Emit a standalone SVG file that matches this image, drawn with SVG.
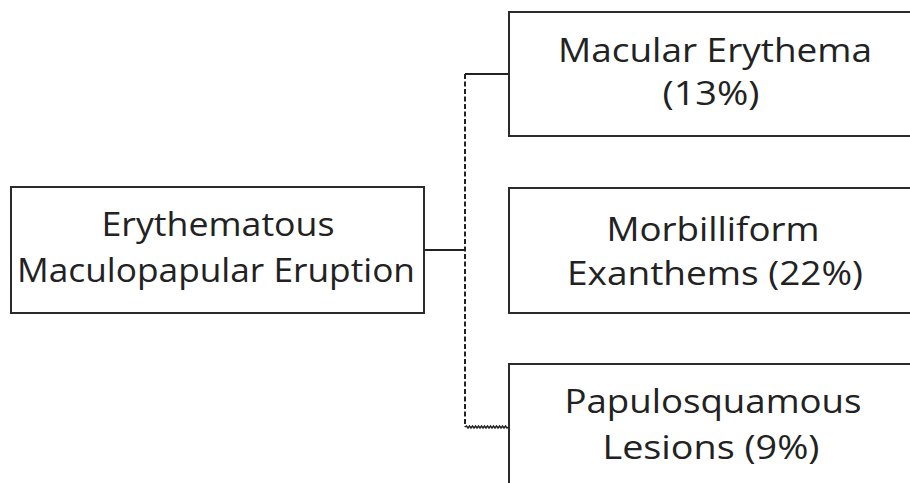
<svg xmlns="http://www.w3.org/2000/svg" width="910" height="483" viewBox="0 0 910 483">
<style>
.box{fill:#fff;stroke:#2b2b2b;stroke-width:2}
.t{font-family:"Open Sans","Liberation Sans",sans-serif;font-size:33px;fill:#222;text-anchor:middle}
.c{fill:none;stroke:#222;stroke-width:2}
</style>
<rect width="910" height="483" fill="#fff"/>
<g id="connectors">
<path class="c" d="M424,250H465"/>
<path class="c" d="M465,74V427" stroke-dasharray="5,2.5"/>
<path class="c" d="M465,74H509"/>
<path fill="none" stroke="#222" stroke-width="1.4" d="M465,427 l1.5,-1 1.5,2 1.5,-2 1.5,2 1.5,-2 1.5,2 1.5,-2 1.5,2 1.5,-2 1.5,2 1.5,-2 1.5,2 1.5,-2 1.5,2 1.5,-2 1.5,2 1.5,-2 1.5,2 1.5,-2 1.5,2 1.5,-2 1.5,2 1.5,-2 1.5,2 1.5,-2 1.5,2 1.5,-2 1.5,2 1.5,-1"/>
</g>
<g id="erythematous">
<rect class="box" x="11" y="187" width="413" height="126"/>
<text class="t" x="218" y="236" textLength="233" lengthAdjust="spacingAndGlyphs">Erythematous</text>
<text class="t" x="216" y="282" textLength="398" lengthAdjust="spacingAndGlyphs">Maculopapular Eruption</text>
</g>
<g id="macular">
<rect class="box" x="509" y="12" width="420" height="124"/>
<text class="t" x="715" y="62" textLength="314" lengthAdjust="spacingAndGlyphs">Macular Erythema</text>
<text class="t" x="711" y="105" textLength="97" lengthAdjust="spacingAndGlyphs">(13%)</text>
</g>
<g id="morbilliform">
<rect class="box" x="509" y="188" width="420" height="125"/>
<text class="t" x="713" y="241" textLength="213" lengthAdjust="spacingAndGlyphs">Morbilliform</text>
<text class="t" x="715" y="285" textLength="296" lengthAdjust="spacingAndGlyphs">Exanthems (22%)</text>
</g>
<g id="papulosquamous">
<rect class="box" x="509" y="364" width="420" height="140"/>
<text class="t" x="713" y="413" textLength="297" lengthAdjust="spacingAndGlyphs">Papulosquamous</text>
<text class="t" x="711" y="459" textLength="217" lengthAdjust="spacingAndGlyphs">Lesions (9%)</text>
</g>
</svg>
